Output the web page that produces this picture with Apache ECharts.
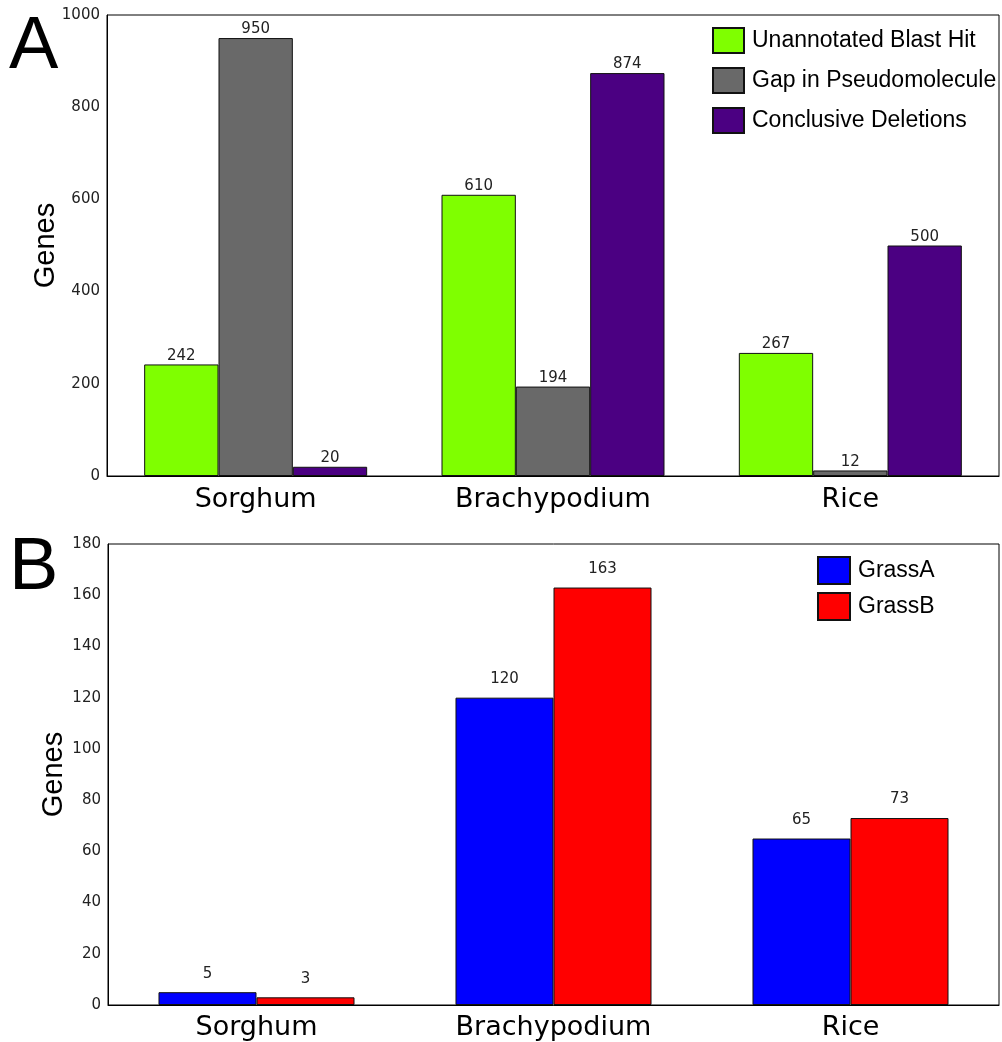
<!DOCTYPE html>
<html><head><meta charset="utf-8">
<script src="https://cdn.jsdelivr.net/npm/echarts@6/dist/echarts.min.js"></script>
<style>html,body{margin:0;padding:0;background:#fff}#c{width:1002px;height:1042px}</style>
</head><body><div id="c"></div>
<script>
const categories = ['Sorghum', 'Brachypodium', 'Rice'];
const unannotatedBlastHit = [242, 610, 267];
const gapInPseudomolecule = [950, 194, 12];
const conclusiveDeletions = [20, 874, 500];
const grassA = [5, 120, 65];
const grassB = [3, 163, 73];
const topTicks = { min: 0, max: 1000, interval: 200 };
const bottomTicks = { min: 0, max: 180, interval: 20 };

const chart = echarts.init(document.getElementById('c'), null, { renderer: 'canvas' });
const tickFont = { fontFamily: 'DejaVu Sans', fontSize: 15, color: '#222', formatter: function (v) { return String(v); } };
const catFont = { fontFamily: 'DejaVu Sans', fontSize: 27, color: '#000' };
function bar(name, data, color, xi, yi, dist) {
  return {
    type: 'bar', name: name, data: data, xAxisIndex: xi, yAxisIndex: yi,
    barGap: '0%', barCategoryGap: xi === 0 ? '25%' : '34%',
    itemStyle: { color: color, borderColor: '#111', borderWidth: 1 },
    label: { show: true, position: 'top', distance: dist, fontFamily: 'DejaVu Sans', fontSize: 15, color: '#222' },
    emphasis: { disabled: true }, animation: false
  };
}
chart.setOption({
  animation: false,
  grid: [
    { left: 107, top: 15, width: 892, height: 461, show: true, borderColor: '#000', borderWidth: 1, containLabel: false },
    { left: 108, top: 544, width: 891, height: 461, show: true, borderColor: '#000', borderWidth: 1, containLabel: false }
  ],
  xAxis: [
    { type: 'category', data: categories, gridIndex: 0, axisTick: { show: false }, axisLine: { lineStyle: { color: '#000' } }, axisLabel: Object.assign({ margin: 10 }, catFont) },
    { type: 'category', data: categories, gridIndex: 1, axisTick: { show: false }, axisLine: { lineStyle: { color: '#000' } }, axisLabel: Object.assign({ margin: 9 }, catFont) }
  ],
  yAxis: [
    { type: 'value', gridIndex: 0, min: topTicks.min, max: topTicks.max, interval: topTicks.interval, splitLine: { show: false },
      axisLine: { show: true, lineStyle: { color: '#000' } }, axisTick: { show: false }, axisLabel: Object.assign({ margin: 7 }, tickFont),
      name: 'Genes', nameLocation: 'middle', nameRotate: 90, nameGap: 47, nameMoveOverlap: false, nameTextStyle: { fontFamily: 'Liberation Sans', fontSize: 29, color: '#000' } },
    { type: 'value', gridIndex: 1, min: bottomTicks.min, max: bottomTicks.max, interval: bottomTicks.interval, splitLine: { show: false },
      axisLine: { show: true, lineStyle: { color: '#000' } }, axisTick: { show: false }, axisLabel: Object.assign({ margin: 7 }, tickFont),
      name: 'Genes', nameLocation: 'middle', nameRotate: 90, nameGap: 40, nameMoveOverlap: false, nameTextStyle: { fontFamily: 'Liberation Sans', fontSize: 29, color: '#000' } }
  ],
  legend: [
    { data: ['Unannotated Blast Hit', 'Gap in Pseudomolecule', 'Conclusive Deletions'], orient: 'vertical', left: 712, top: 27, padding: 0,
      itemWidth: 31, itemHeight: 25, itemGap: 13, icon: 'rect', selectedMode: false,
      textStyle: { fontFamily: 'Liberation Sans', fontSize: 23, color: '#000', padding: [0, 0, 0, 3] } },
    { data: ['GrassA', 'GrassB'], orient: 'vertical', left: 817, top: 556, padding: 0,
      itemWidth: 32, itemHeight: 27, itemGap: 7, icon: 'rect', selectedMode: false,
      textStyle: { fontFamily: 'Liberation Sans', fontSize: 23, color: '#000', padding: [0, 0, 0, 3] } }
  ],
  graphic: [
    { type: 'text', left: 9, top: 11, style: { text: 'A', fontFamily: 'Liberation Sans', fontSize: 74, fill: '#000' } },
    { type: 'text', left: 9, top: 532, style: { text: 'B', fontFamily: 'Liberation Sans', fontSize: 74, fill: '#000' } }
  ],
  series: [
    bar('Unannotated Blast Hit', unannotatedBlastHit, '#7fff00', 0, 0, 1),
    bar('Gap in Pseudomolecule', gapInPseudomolecule, '#696969', 0, 0, 1),
    bar('Conclusive Deletions', conclusiveDeletions, '#4b0082', 0, 0, 1),
    bar('GrassA', grassA, '#0000ff', 1, 1, 11),
    bar('GrassB', grassB, '#ff0000', 1, 1, 11)
  ]
});
</script></body></html>
